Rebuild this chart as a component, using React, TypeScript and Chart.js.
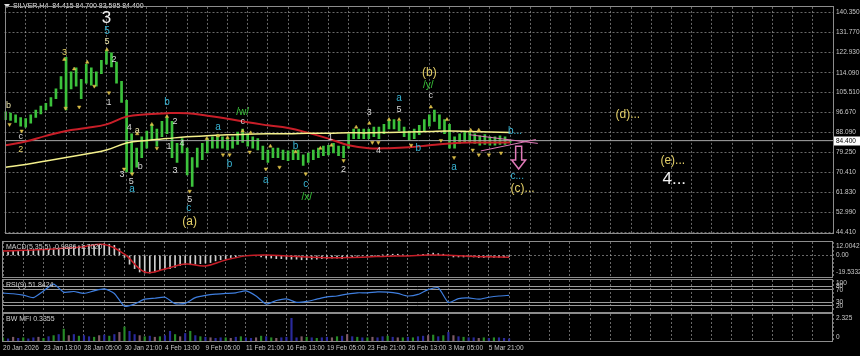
import React, { useEffect, useRef } from "react";
import { Chart, registerables } from "chart.js";

Chart.register(...registerables);

const FONT = '"Liberation Sans", Arial, sans-serif';
const GRID = "rgba(190,190,190,0.55)";
const LEVEL = "#9a9a9a";
const FRAME = "#8c8c8c";
const AXIS_TXT = "#c8c8c8";
const GREEN = "#3cc23c";
const RED = "#c81e28";
const YELLOW = "#f4f08c";
const PINK = "#e07ab8";
const FRACT = "#d9bc48";
const CYAN = "#38b4d4";
const YEL = "#e3cf68";
const WHT = "#d9d9d9";
const GRN = "#39c43a";
const PALE = "#e9e2a8";
const AXIS_W = 27;

const X_MIN = -0.2;
const X_MAX = 164;
const GRID_STEP = 4;
const LABEL_STEP = 8;
const MA_STEP = 4;
const RSI_STEP = 2;

const headerText = "SILVER,H4  84.415 84.700 83.595 84.400";

const timeLabels = [
  "20 Jan 2026", "23 Jan 13:00", "28 Jan 05:00", "30 Jan 21:00", "4 Feb 13:00",
  "9 Feb 05:00", "11 Feb 21:00", "16 Feb 13:00", "19 Feb 05:00", "23 Feb 21:00",
  "26 Feb 13:00", "3 Mar 05:00", "5 Mar 21:00",
];

const priceTicks = [140.35, 131.77, 122.93, 114.09, 105.51, 96.67, 88.09, 79.25, 70.41, 61.83, 52.99, 44.41];
const PRICE_MIN = 44.0;
const PRICE_MAX = 142.85;
const lastPrice = 84.4;

// [low, high] per slot (two H4 bars per slot)
const priceBars: [number, number][] = [
  [93.6, 97.0], [93.2, 96.5], [92.4, 95.7], [90.7, 94.5], [90.3, 94.0],
  [92.0, 95.7], [94.5, 97.8], [96.1, 99.5], [97.8, 100.7], [99.5, 103.2],
  [102.8, 107.0], [107.0, 112.4], [97.8, 120.8], [107.0, 114.5], [108.2, 116.2],
  [102.8, 111.2], [109.5, 117.8], [108.6, 116.2], [108.2, 114.5], [113.7, 119.5],
  [117.8, 123.7], [116.6, 122.8], [109.5, 118.7], [101.1, 110.3], [70.7, 102.0],
  [69.9, 87.4], [72.8, 81.1], [77.0, 86.1], [81.1, 88.6], [84.5, 91.5],
  [82.0, 89.5], [86.1, 92.8], [87.4, 94.5], [77.0, 92.8], [74.9, 83.2],
  [79.0, 85.3], [69.4, 81.1], [64.4, 77.0], [72.8, 81.1], [76.1, 83.2],
  [79.0, 85.3], [81.1, 86.1], [81.1, 87.0], [81.1, 86.1], [80.3, 85.3],
  [81.1, 86.1], [82.8, 88.2], [83.6, 89.5], [82.0, 87.4], [81.1, 86.1],
  [80.3, 85.3], [76.1, 82.0], [74.9, 80.3], [77.0, 81.1], [77.0, 81.1],
  [76.1, 80.3], [75.7, 79.9], [76.1, 80.3], [76.1, 80.3], [73.6, 78.2],
  [74.9, 79.0], [76.1, 80.3], [77.0, 81.1], [77.8, 82.0], [78.2, 82.4],
  [79.0, 83.2], [77.8, 82.0], [77.0, 82.0], [81.1, 87.4], [85.3, 89.5],
  [85.3, 89.5], [85.3, 89.5], [85.3, 89.5], [86.1, 90.3], [85.3, 90.3],
  [87.4, 91.5], [89.5, 93.6], [89.5, 93.6], [88.6, 92.8], [86.1, 90.3],
  [84.5, 88.6], [85.3, 89.5], [87.0, 91.1], [88.6, 93.6], [90.7, 95.7],
  [92.8, 97.8], [89.5, 95.7], [87.4, 93.6], [81.1, 91.5], [81.1, 86.1],
  [83.2, 87.4], [84.0, 88.6], [84.0, 88.2], [83.2, 87.4], [82.4, 86.5],
  [82.8, 87.0], [82.4, 86.1], [82.4, 86.1], [82.8, 86.5], [82.8, 86.1],
  [83.6, 84.7],
];

// moving averages, one value every MA_STEP slots
const redMA = [82.4, 84.0, 86.5, 88.6, 89.9, 91.5, 94.9, 95.9, 96.4, 96.4, 95.3, 94.0, 92.4, 91.1, 89.9, 87.8, 85.3, 82.4, 81.1, 81.1, 81.5, 82.4, 83.2, 83.6, 83.6, 83.6];
const yellowMA = [72.8, 74.0, 75.5, 77.0, 78.6, 80.3, 83.4, 84.5, 85.3, 86.1, 86.5, 87.0, 87.2, 87.4, 87.4, 87.6, 87.6, 87.8, 87.8, 88.0, 88.2, 88.4, 88.6, 88.4, 88.2, 88.0];

const trendUpper: [number, number][] = [[91.9, 87.0], [105.5, 83.2]];
const trendLower: [number, number][] = [[94.2, 79.9], [105.1, 84.9]];

const fractalsUp: [number, number][] = [
  [11.65, 119.9], [13.6, 115.7], [16.2, 118.7], [20.1, 124.1], [26.1, 87.4], [29.0, 91.5],
  [32.0, 94.9], [39.9, 85.3], [42.1, 86.5], [44.0, 85.7], [47.0, 88.6], [48.6, 87.8],
  [52.5, 82.0], [57.5, 79.5], [62.4, 81.1], [64.6, 82.4], [69.5, 90.3], [72.1, 92.0],
  [76.0, 93.6], [78.0, 93.6], [84.3, 99.1], [87.5, 93.6], [92.2, 89.0], [93.8, 89.0],
];
const fractalsDown: [number, number][] = [
  [0.8, 91.5], [3.2, 88.6], [11.9, 98.6], [14.6, 99.1], [17.6, 108.2], [20.5, 105.3],
  [23.5, 72.0], [25.1, 69.9], [30.0, 81.1], [36.5, 62.3], [43.1, 78.2], [44.4, 78.2],
  [48.4, 79.4], [51.6, 72.0], [54.3, 72.8], [59.5, 69.9], [67.0, 75.7], [72.7, 83.6],
  [73.9, 83.6], [80.4, 82.4], [86.3, 84.5], [88.9, 77.0], [92.6, 80.3], [93.8, 78.2],
  [95.8, 78.2], [98.2, 79.0],
];

type Wave = { t: string; s: number; p: number; c: string; f: number; a?: CanvasTextAlign };
const waves: Wave[] = [
  { t: "b", s: 0.6, p: 99.9, c: PALE, f: 9 },
  { t: "c", s: 3.0, p: 86.1, c: WHT, f: 9 },
  { t: "2", s: 3.0, p: 80.7, c: YEL, f: 9 },
  { t: "3", s: 11.7, p: 122.8, c: YEL, f: 9 },
  { t: "3", s: 20.0, p: 137.8, c: "#f2f2f2", f: 17 },
  { t: "5", s: 20.1, p: 132.4, c: CYAN, f: 10 },
  { t: "5", s: 20.1, p: 127.8, c: PALE, f: 9 },
  { t: "2", s: 21.5, p: 119.9, c: WHT, f: 9 },
  { t: "1", s: 20.5, p: 101.1, c: WHT, f: 9 },
  { t: "4", s: 24.5, p: 90.3, c: WHT, f: 9 },
  { t: "a", s: 26.1, p: 89.0, c: PALE, f: 9 },
  { t: "3", s: 23.1, p: 69.4, c: WHT, f: 9 },
  { t: "5", s: 24.9, p: 66.5, c: WHT, f: 9 },
  { t: "a", s: 25.1, p: 63.2, c: CYAN, f: 10 },
  { t: "b", s: 26.7, p: 73.2, c: WHT, f: 9 },
  { t: "b", s: 32.0, p: 101.1, c: CYAN, f: 10 },
  { t: "2", s: 33.6, p: 92.8, c: WHT, f: 9 },
  { t: "1", s: 32.4, p: 82.0, c: WHT, f: 9 },
  { t: "3", s: 33.6, p: 71.5, c: WHT, f: 9 },
  { t: "4", s: 35.0, p: 83.2, c: WHT, f: 9 },
  { t: "5", s: 36.5, p: 58.6, c: WHT, f: 9 },
  { t: "c", s: 36.3, p: 54.8, c: CYAN, f: 10 },
  { t: "(a)", s: 36.5, p: 49.0, c: YEL, f: 12 },
  { t: "a", s: 42.1, p: 90.3, c: CYAN, f: 10 },
  { t: "b", s: 44.4, p: 74.0, c: CYAN, f: 10 },
  { t: "c", s: 47.0, p: 92.8, c: WHT, f: 9 },
  { t: "/w/", s: 47.0, p: 97.0, c: GRN, f: 10 },
  { t: "a", s: 51.6, p: 67.3, c: CYAN, f: 10 },
  { t: "b", s: 57.5, p: 82.0, c: CYAN, f: 10 },
  { t: "c", s: 59.5, p: 65.3, c: CYAN, f: 10 },
  { t: "/x/", s: 59.7, p: 59.8, c: GRN, f: 10 },
  { t: "1", s: 64.4, p: 85.7, c: WHT, f: 9 },
  { t: "2", s: 67.0, p: 72.0, c: WHT, f: 9 },
  { t: "3", s: 72.1, p: 96.6, c: WHT, f: 9 },
  { t: "4", s: 73.9, p: 79.9, c: WHT, f: 9 },
  { t: "a", s: 78.0, p: 102.8, c: CYAN, f: 10 },
  { t: "5", s: 78.0, p: 97.8, c: WHT, f: 9 },
  { t: "(b)", s: 84.0, p: 114.1, c: YEL, f: 12 },
  { t: "/y/", s: 83.8, p: 108.6, c: GRN, f: 10 },
  { t: "c", s: 84.3, p: 104.1, c: WHT, f: 9 },
  { t: "b", s: 81.8, p: 81.1, c: CYAN, f: 10 },
  { t: "a", s: 88.9, p: 72.8, c: CYAN, f: 10 },
  { t: "b...", s: 99.6, p: 88.6, c: CYAN, f: 10, a: "left" },
  { t: "c...", s: 100.1, p: 69.0, c: CYAN, f: 10, a: "left" },
  { t: "(c)...", s: 100.1, p: 63.2, c: YEL, f: 12, a: "left" },
  { t: "(d)...", s: 120.9, p: 95.7, c: YEL, f: 12, a: "left" },
  { t: "(e)...", s: 129.8, p: 75.7, c: YEL, f: 12, a: "left" },
  { t: "4...", s: 130.2, p: 67.3, c: "#f2f2f2", f: 17, a: "left" },
];

const arrowSlot = 101.7;
const arrowTop = 81.9;
const arrowBottom = 72.0;

// MACD panel
const macdTitle = "MACD(5,35,5) -0.9886 -1.7020";
const MACD_MIN = -19.5332;
const MACD_MAX = 12.0042;
const macdHist = [
  3, 3, 3.5, 3.5, 4, 4, 4.5, 4.5, 5, 5.5,
  6, 6.5, 7.5, 7.5, 8, 8.5, 9, 9.5, 9.5, 10,
  10.5, 10, 9, 6, -2, -8, -12, -15, -16, -16,
  -15, -13.5, -12.5, -12, -11, -9, -8.5, -8.5, -8, -7.5,
  -7, -6.5, -5, -4, -3, -2, -1.5, -0.5, 0, 0,
  -0.5, -1.5, -2.5, -2.5, -3, -3, -3.5, -3.5, -3.5, -4,
  -4, -3.5, -3.5, -3, -3, -2.5, -2.5, -3, -2, -1.5,
  -1, -0.5, -0.5, 0, 0, 0.5, 1, 1, 1, 0.5,
  0, 0, 0.5, 1, 1.5, 2, 1.5, 1, -0.5, -1.5,
  -1.5, -1.5, -1.5, -1.5, -2, -2, -2, -2, -2, -2,
  -1,
];
const macdSignal = [3.9, 4.5, 5.2, 6.3, 7.8, 9.7, 1.0, -15.0, -12.3, -7.8, -9.6, -4.2, -0.5, 0.3, -0.6, -1.5, -2.2, -2.0, -1.5, -0.8, -0.5, 0.2, 0.0, -0.8, -1.3, -1.7];

// RSI panel
const rsiTitle = "RSI(9) 51.8424";
const rsiLevels = [20, 30, 70, 80];
const rsiValues = [59, 57, 53, 45, 66, 87, 62, 64, 58, 66, 72, 58, 18, 25, 40, 43, 46, 26, 27, 45, 52, 56, 58, 60, 66, 50, 25, 36, 41, 30, 33, 40, 47, 50, 56, 60, 60, 63, 62, 58, 50, 55, 70, 76, 30, 42, 44, 40, 46, 50, 52];

// BW MFI panel
const bwTitle = "BW MFI 0.3355";
const BW_MAX = 2.5;
const bwValues = [
  0.3, 0.2, 0.35, 0.25, 0.3, 0.2, 0.3, 0.35, 0.25, 0.4,
  0.5, 0.6, 1.1, 0.5, 0.6, 0.45, 0.5, 0.4, 0.35, 0.5,
  0.55, 0.45, 0.6, 0.8, 1.3, 0.9, 0.6, 0.5, 0.4, 0.45,
  0.35, 0.4, 0.5, 0.9, 0.6, 0.4, 0.7, 0.9, 0.5, 0.4,
  0.35, 0.3, 0.25, 0.3, 0.3, 0.25, 0.35, 0.4, 0.3, 0.25,
  0.3, 0.45, 0.4, 0.3, 0.25, 0.3, 0.35, 2.1, 0.3, 0.4,
  0.35, 0.3, 0.25, 0.3, 0.35, 0.3, 0.4, 0.45, 0.6, 0.4,
  0.35, 0.3, 0.3, 0.35, 0.3, 0.4, 0.45, 0.35, 0.3, 0.3,
  0.35, 0.3, 0.4, 0.45, 0.5, 0.55, 0.4, 0.5, 0.8, 0.5,
  0.4, 0.35, 0.3, 0.3, 0.25, 0.3, 0.25, 0.3, 0.3, 0.25,
  0.2,
];
const bwTypes = "gbpbgbbpgbgbgpbgbbgpbgbpgbbpgbpgbbgpbgbgbpbbgpbgbbpgbgpbbbbpgbgbbpgbpbgbgpbbgbpgbgbbpgbgbpbgbbpgbgb";
const bwColors: Record<string, string> = { g: "#278a27", b: "#2a2a9c", p: "#7e5a66" };

function timeAxis(withLabels: boolean): any {
  return {
    type: "linear",
    min: X_MIN,
    max: X_MAX,
    offset: false,
    afterBuildTicks: (s: any) => {
      const t: any[] = [];
      for (let v = 0; v <= X_MAX; v += GRID_STEP) t.push({ value: v });
      s.ticks = t;
    },
    afterFit: (s: any) => {
      s.height = withLabels ? 15 : 0;
    },
    grid: { display: true, color: GRID, lineWidth: 1, drawTicks: false, offset: false },
    border: { display: false, dash: [2, 2] },
    ticks: {
      display: withLabels,
      autoSkip: false,
      maxRotation: 0,
      minRotation: 0,
      align: "start",
      padding: 3,
      color: AXIS_TXT,
      font: { family: FONT, size: 6.5 },
      callback: (v: any) => {
        const k = Number(v) / LABEL_STEP;
        return Number.isInteger(k) && k < timeLabels.length ? timeLabels[k] : "";
      },
    },
  };
}

function panelAxis(min: number, max: number, gridTicks: number[], dashed: boolean): any {
  return {
    type: "linear",
    position: "right",
    min,
    max,
    afterBuildTicks: (s: any) => {
      s.ticks = gridTicks.map((v) => ({ value: v }));
    },
    afterFit: (s: any) => {
      s.width = AXIS_W;
    },
    grid: { display: gridTicks.length > 0, color: dashed ? GRID : LEVEL, drawTicks: false },
    border: { display: false, dash: dashed ? [2, 2] : [] },
    ticks: { display: false },
  };
}

function drawFrame(chart: any) {
  const { ctx, chartArea: a } = chart;
  ctx.save();
  ctx.strokeStyle = FRAME;
  ctx.lineWidth = 1;
  ctx.strokeRect(Math.round(a.left) + 0.5, Math.round(a.top) - 0.5, Math.round(a.width) - 1, Math.round(a.height) + 1);
  ctx.restore();
}

function drawText(ctx: any, text: string, x: number, y: number, color: string, size: number, align: CanvasTextAlign = "left") {
  ctx.font = `${size}px ${FONT}`;
  ctx.fillStyle = color;
  ctx.textAlign = align;
  ctx.textBaseline = "middle";
  ctx.fillText(text, x, y);
}

const baseOptions = (padding: any) => ({
  responsive: false,
  animation: false as const,
  events: [] as any[],
  layout: { padding },
  plugins: { legend: { display: false }, tooltip: { enabled: false } },
});

const mainOverlay = {
  id: "mainOverlay",
  afterDatasetsDraw(chart: any) {
    const { ctx, scales } = chart;
    const x = scales.x;
    const y = scales.y;
    ctx.save();
    waves.forEach((w) => {
      drawText(ctx, w.t, x.getPixelForValue(w.s), y.getPixelForValue(w.p), w.c, w.f, w.a || "center");
    });
    // hollow down arrow
    const ax = x.getPixelForValue(arrowSlot);
    const t = y.getPixelForValue(arrowTop);
    const b = y.getPixelForValue(arrowBottom);
    const head = 9;
    ctx.beginPath();
    ctx.moveTo(ax - 3, t);
    ctx.lineTo(ax + 3, t);
    ctx.lineTo(ax + 3, b - head);
    ctx.lineTo(ax + 7, b - head);
    ctx.lineTo(ax, b);
    ctx.lineTo(ax - 7, b - head);
    ctx.lineTo(ax - 3, b - head);
    ctx.closePath();
    ctx.strokeStyle = PINK;
    ctx.lineWidth = 1.5;
    ctx.stroke();
    // header
    ctx.fillStyle = "#e0e0e0";
    ctx.beginPath();
    ctx.moveTo(4, 4);
    ctx.lineTo(10, 4);
    ctx.lineTo(7, 8);
    ctx.closePath();
    ctx.fill();
    drawText(ctx, headerText, 13, 6.5, "#e0e0e0", 7);
    ctx.restore();
  },
  afterDraw(chart: any) {
    drawFrame(chart);
    const { ctx, chartArea: a, scales } = chart;
    const py = Math.round(scales.y.getPixelForValue(lastPrice));
    ctx.save();
    ctx.fillStyle = "#ffffff";
    ctx.fillRect(a.right + 1, py - 4.5, 26, 9);
    drawText(ctx, lastPrice.toFixed(3), a.right + 3, py, "#000000", 6.5);
    ctx.restore();
  },
};

function panelOverlay(title: string, labels: { t: string; v: number; dy: number }[]) {
  return {
    id: "panelOverlay",
    afterDraw(chart: any) {
      drawFrame(chart);
      const { ctx, chartArea: a, scales } = chart;
      ctx.save();
      drawText(ctx, title, a.left + 4, a.top + 5, "#d0d0d0", 7);
      labels.forEach((l) => {
        drawText(ctx, l.t, a.right + 3, scales.y.getPixelForValue(l.v) + l.dy, AXIS_TXT, 6.5);
      });
      ctx.restore();
    },
  };
}

function mainConfig(): any {
  return {
    type: "bar",
    data: {
      datasets: [
        {
          type: "line",
          data: fractalsUp.map(([s, p]) => ({ x: s, y: p })),
          showLine: false,
          pointStyle: "triangle",
          pointRadius: 2,
          pointBackgroundColor: FRACT,
          pointBorderColor: FRACT,
          pointBorderWidth: 0.5,
          order: 1,
        },
        {
          type: "line",
          data: fractalsDown.map(([s, p]) => ({ x: s, y: p })),
          showLine: false,
          pointStyle: "triangle",
          pointRotation: 180,
          pointRadius: 2,
          pointBackgroundColor: FRACT,
          pointBorderColor: FRACT,
          pointBorderWidth: 0.5,
          order: 1,
        },
        {
          type: "line",
          data: trendUpper.map(([s, p]) => ({ x: s, y: p })),
          borderColor: PINK,
          borderWidth: 1,
          pointRadius: 0,
          order: 1,
        },
        {
          type: "line",
          data: trendLower.map(([s, p]) => ({ x: s, y: p })),
          borderColor: PINK,
          borderWidth: 1,
          pointRadius: 0,
          order: 1,
        },
        {
          type: "line",
          data: yellowMA.map((v, k) => ({ x: k * MA_STEP, y: v })),
          borderColor: YELLOW,
          borderWidth: 1.5,
          pointRadius: 0,
          tension: 0.4,
          order: 2,
        },
        {
          type: "line",
          data: redMA.map((v, k) => ({ x: k * MA_STEP, y: v })),
          borderColor: RED,
          borderWidth: 2,
          pointRadius: 0,
          tension: 0.4,
          order: 2,
        },
        {
          type: "line",
          data: [
            { x: X_MIN, y: lastPrice },
            { x: X_MAX, y: lastPrice },
          ],
          borderColor: "#a8a8a8",
          borderWidth: 1,
          pointRadius: 0,
          order: 3,
        },
        {
          type: "bar",
          data: priceBars.map((v, i) => ({ x: i, y: v })),
          backgroundColor: GREEN,
          borderWidth: 0,
          barThickness: 2,
          grouped: false,
          order: 5,
        },
      ],
    },
    options: {
      ...baseOptions({ left: 2, top: 2, right: 0, bottom: 1 }),
      scales: {
        x: timeAxis(false),
        y: {
          type: "linear",
          position: "right",
          min: PRICE_MIN,
          max: PRICE_MAX,
          afterBuildTicks: (s: any) => {
            s.ticks = priceTicks.map((v) => ({ value: v }));
          },
          afterFit: (s: any) => {
            s.width = AXIS_W;
          },
          grid: { color: GRID, drawTicks: false },
          border: { display: false, dash: [2, 2] },
          ticks: {
            color: AXIS_TXT,
            padding: 3,
            font: { family: FONT, size: 6.5 },
            callback: (v: any) => Number(v).toFixed(3),
          },
        },
      },
    },
    plugins: [mainOverlay],
  };
}

function macdConfig(): any {
  return {
    type: "bar",
    data: {
      datasets: [
        {
          type: "line",
          data: macdSignal.map((v, k) => ({ x: k * MA_STEP, y: v })),
          borderColor: RED,
          borderWidth: 1.5,
          pointRadius: 0,
          tension: 0.4,
          order: 1,
        },
        {
          type: "bar",
          data: macdHist.map((v, i) => ({ x: i, y: v })),
          backgroundColor: "#cfcfcf",
          borderWidth: 0,
          barThickness: 1,
          grouped: false,
          order: 2,
        },
      ],
    },
    options: {
      ...baseOptions({ left: 2, top: 2, right: 0, bottom: 1 }),
      scales: { x: timeAxis(false), y: panelAxis(MACD_MIN, MACD_MAX, [0], true) },
    },
    plugins: [
      panelOverlay(macdTitle, [
        { t: "12.0042", v: MACD_MAX, dy: 4 },
        { t: "0.00", v: 0, dy: 0 },
        { t: "-19.5332", v: MACD_MIN, dy: -5 },
      ]),
    ],
  };
}

function rsiConfig(): any {
  return {
    type: "line",
    data: {
      datasets: [
        {
          data: rsiValues.map((v, k) => ({ x: k * RSI_STEP, y: v })),
          borderColor: "#3f7fe0",
          borderWidth: 1.2,
          pointRadius: 0,
          tension: 0.2,
        },
      ],
    },
    options: {
      ...baseOptions({ left: 2, top: 2, right: 0, bottom: 1 }),
      scales: { x: timeAxis(false), y: panelAxis(0, 100, rsiLevels, false) },
    },
    plugins: [
      panelOverlay(rsiTitle, [
        { t: "100", v: 100, dy: 3 },
        { t: "80", v: 80, dy: 0 },
        { t: "70", v: 70, dy: 1 },
        { t: "30", v: 30, dy: 0 },
        { t: "20", v: 20, dy: 1 },
      ]),
    ],
  };
}

function bwConfig(): any {
  return {
    type: "bar",
    data: {
      datasets: [
        {
          data: bwValues.map((v, i) => ({ x: i, y: v })),
          backgroundColor: bwValues.map((_, i) => bwColors[bwTypes[i] || "b"]),
          borderWidth: 0,
          barThickness: 1.5,
          grouped: false,
        },
      ],
    },
    options: {
      ...baseOptions({ left: 2, top: 1, right: 0, bottom: 0 }),
      scales: { x: timeAxis(true), y: panelAxis(0, BW_MAX, [], true) },
    },
    plugins: [
      panelOverlay(bwTitle, [
        { t: "2.325", v: BW_MAX, dy: 4 },
        { t: "0", v: 0, dy: -4 },
      ]),
    ],
  };
}

export default function App() {
  const mainRef = useRef<HTMLCanvasElement>(null);
  const macdRef = useRef<HTMLCanvasElement>(null);
  const rsiRef = useRef<HTMLCanvasElement>(null);
  const bwRef = useRef<HTMLCanvasElement>(null);

  useEffect(() => {
    const charts = [
      new Chart(mainRef.current as HTMLCanvasElement, mainConfig()),
      new Chart(macdRef.current as HTMLCanvasElement, macdConfig()),
      new Chart(rsiRef.current as HTMLCanvasElement, rsiConfig()),
      new Chart(bwRef.current as HTMLCanvasElement, bwConfig()),
    ];
    return () => charts.forEach((c) => c.destroy());
  }, []);

  const pos = (top: number): React.CSSProperties => ({ position: "absolute", left: 0, top, display: "block" });

  return (
    <div style={{ position: "fixed", left: 0, top: 0, width: 860, height: 356, background: "#000", overflow: "hidden" }}>
      <canvas ref={mainRef} width={860} height={240} style={pos(0)} />
      <canvas ref={macdRef} width={860} height={38} style={pos(240)} />
      <canvas ref={rsiRef} width={860} height={35} style={pos(278)} />
      <canvas ref={bwRef} width={860} height={43} style={pos(313)} />
    </div>
  );
}
